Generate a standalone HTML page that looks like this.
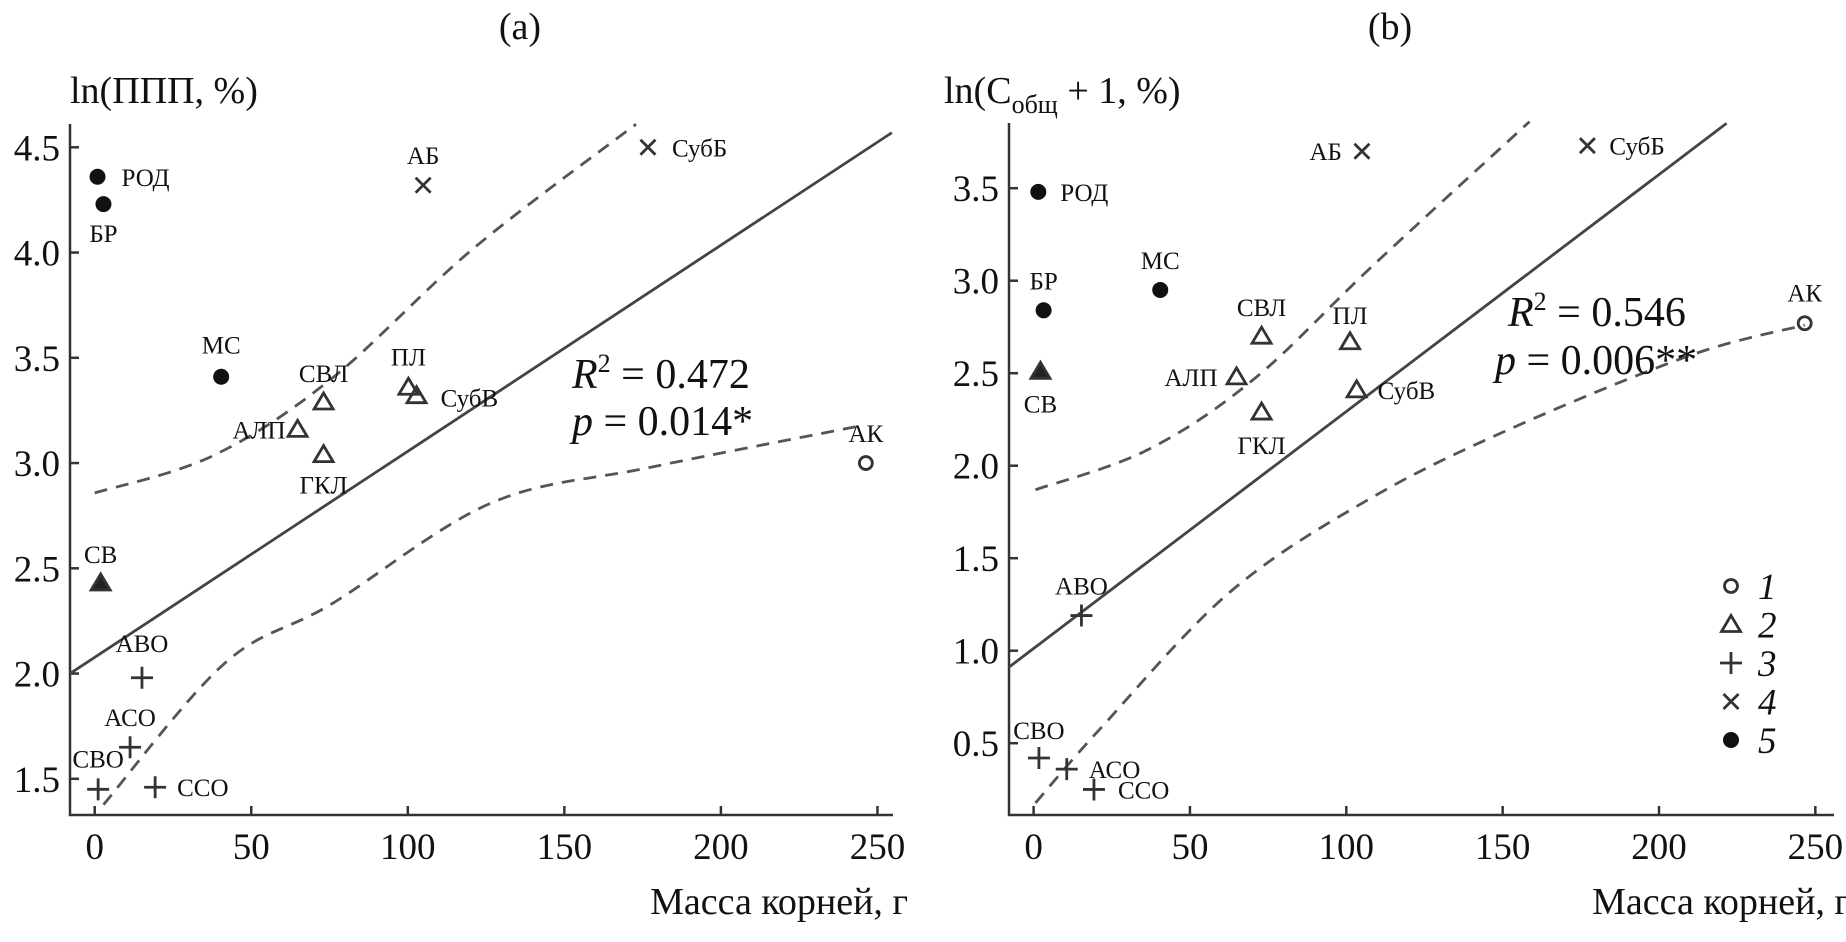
<!DOCTYPE html>
<html><head><meta charset="utf-8"><style>
html,body{margin:0;padding:0;background:#fff;}
svg{display:block;font-family:"Liberation Serif",serif;}
</style></head><body>
<svg id="chart" width="1846" height="942" viewBox="0 0 1846 942" xmlns="http://www.w3.org/2000/svg"></svg>
<script>
// ---------- Panel (a) data ----------
const aNames = ["РОД","БР","МС","СВЛ","АЛП","ГКЛ","ПЛ","СубВ","АБ","СубБ","АК","СВ","АВО","АСО","СВО","ССО"];
const aX = [0.9,2.8,40.4,73.1,64.8,73.1,100.2,102.8,104.9,176.7,246.3,1.9,15.1,11.3,1.1,19.3];
const aY = [4.36,4.23,3.41,3.29,3.16,3.04,3.36,3.32,4.32,4.50,3.00,2.43,1.98,1.65,1.45,1.46];
const aType = [5,5,5,2,2,2,2,2,4,4,1,6,3,3,3,3];
const aUpperX = [0,37.8,75.6,121,172.9];
const aUpperY = [2.858,3.035,3.40,4.02,4.61];
const aLowerX = [2.8,41.6,75.6,126.6,177.6,245.7];
const aLowerY = [1.377,2.05,2.33,2.81,2.98,3.18];
const aFit = [2.077,0.00979]; // intercept, slope
const aYTicks = [1.5,2.0,2.5,3.0,3.5,4.0,4.5];
// ---------- Panel (b) data ----------
const bNames = ["РОД","БР","СВ","МС","СВЛ","АЛП","ГКЛ","ПЛ","СубВ","АБ","СубБ","АК","АВО","СВО","АСО","ССО"];
const bX = [1.5,3.2,2.2,40.5,72.9,64.9,72.9,101.2,103.3,105,177.1,246.6,15.3,1.7,10.6,19.3];
const bY = [3.48,2.84,2.51,2.95,2.70,2.48,2.29,2.67,2.41,3.70,3.73,2.77,1.19,0.42,0.36,0.25];
const bType = [5,5,6,5,2,2,2,2,2,4,4,1,3,3,3,3];
const bUpperX = [0.6,36.5,70.6,108.4,158.6];
const bUpperY = [1.87,2.086,2.47,3.08,3.86];
const bLowerX = [0.6,21.4,63,108.4,153.9,210.6,246.6];
const bLowerY = [0.177,0.58,1.32,1.83,2.21,2.60,2.76];
const bFit = [1.012,0.01281];
const bYTicks = [0.5,1.0,1.5,2.0,2.5,3.0,3.5];
const xTicks = [0,50,100,150,200,250];
const legendLabels = ["1","2","3","4","5"];
const legendTypes = [1,2,3,4,5];

// layout (label offsets: dx, dy, anchor)
const aLab = [[24,9,"start"],[0,38,"middle"],[0,-23,"middle"],[0,-20,"middle"],[-12,9,"end"],[0,39,"middle"],[0,-22,"middle"],[24,11,"start"],[0,-21,"middle"],[24,9,"start"],[0,-21,"middle"],[0,-20,"middle"],[0,-26,"middle"],[0,-21,"middle"],[0,-22,"middle"],[22,9,"start"]];
const bLab = [[22,9,"start"],[0,-21,"middle"],[0,41,"middle"],[0,-21,"middle"],[0,-20,"middle"],[-19,9,"end"],[0,42,"middle"],[0,-18,"middle"],[21,9,"start"],[-20,9,"end"],[22,9,"start"],[0,-22,"middle"],[0,-21,"middle"],[0,-19,"middle"],[22,9,"start"],[24,9,"start"]];

const svg = document.getElementById('chart');
const NS = "http://www.w3.org/2000/svg";
const C = "#333";
function mk(tag, attrs, parent){
  const e = document.createElementNS(NS, tag);
  for (const k in attrs) e.setAttribute(k, attrs[k]);
  (parent||svg).appendChild(e);
  return e;
}
function txt(s, x, y, size, anchor, parent, style){
  const t = mk('text',{x:x,y:y,'font-size':size,'text-anchor':anchor||'start',fill:'#111'},parent);
  if(style) t.setAttribute('font-style',style);
  t.textContent = s;
  return t;
}
function marker(type, x, y, g){
  let e;
  if(type===1){ e = mk('circle',{cx:x,cy:y,r:6.5,fill:'none',stroke:C,'stroke-width':2.8},g); }
  else if(type===5){ e = mk('circle',{cx:x,cy:y,r:8,fill:'#111'},g); }
  else if(type===2||type===6){ e = mk('polygon',{points:`${x},${y-9} ${x-9.5},${y+7} ${x+9.5},${y+7}`,fill:type===6?'#222':'none',stroke:C,'stroke-width':2.8},g); }
  else if(type===3){ e = mk('path',{d:`M${x-11},${y}H${x+11}M${x},${y-11}V${y+11}`,stroke:C,'stroke-width':2.8,fill:'none'},g); }
  else { e = mk('path',{d:`M${x-7.5},${y-7.5}L${x+7.5},${y+7.5}M${x+7.5},${y-7.5}L${x-7.5},${y+7.5}`,stroke:C,'stroke-width':2.8,fill:'none'},g); }
  return e;
}
function smooth(px, py){
  let d = `M${px[0]},${py[0]}`;
  for(let i=0;i<px.length-1;i++){
    const p0=[px[Math.max(i-1,0)],py[Math.max(i-1,0)]], p1=[px[i],py[i]], p2=[px[i+1],py[i+1]], p3=[px[Math.min(i+2,px.length-1)],py[Math.min(i+2,px.length-1)]];
    const c1=[p1[0]+(p2[0]-p0[0])/6,p1[1]+(p2[1]-p0[1])/6], c2=[p2[0]-(p3[0]-p1[0])/6,p2[1]-(p3[1]-p1[1])/6];
    d+=` C${c1[0]},${c1[1]} ${c2[0]},${c2[1]} ${p2[0]},${p2[1]}`;
  }
  return d;
}
function panel(P){
  const g = mk('g',{});
  
  
  const sx = v => P.x0 + v*P.kx;
  const sy = v => P.yref - (v-P.vref)*P.ky;
  const ax = mk('path',{d:`M${P.axL},${P.top}V${P.bot}H${P.axR}`,stroke:C,'stroke-width':2.5,fill:'none'},g);
  
  
  xTicks.forEach(v=>{
    const X=sx(v);
    mk('line',{x1:X,y1:P.bot,x2:X,y2:P.bot-9,stroke:C,'stroke-width':2.5},g);
    const t=txt(String(v),X,P.bot+44,37,'middle',g);
    
    
  });
  P.yTicks.forEach(v=>{
    const Y=sy(v);
    mk('line',{x1:P.axL,y1:Y,x2:P.axL+9,y2:Y,stroke:C,'stroke-width':2.5},g);
    const t=txt(v.toFixed(1),P.axL-10,Y+13,37,'end',g);
    
    
  });
  const xl=(P.axL-P.x0)/P.kx, xr=P.fitEnd;
  const fl=mk('line',{x1:P.axL,y1:sy(P.fit[0]+P.fit[1]*xl),x2:sx(xr),y2:sy(P.fit[0]+P.fit[1]*xr),stroke:'#444','stroke-width':2.8},g);
  
  
  const u=mk('path',{d:smooth(P.ux.map(sx),P.uy.map(sy)),stroke:'#555','stroke-width':2.8,fill:'none','stroke-dasharray':'13,9'},g);
  
  
  const l=mk('path',{d:smooth(P.lx.map(sx),P.ly.map(sy)),stroke:'#555','stroke-width':2.8,fill:'none','stroke-dasharray':'13,9'},g);
  
  
  P.names.forEach((n,i)=>{
    const X=sx(P.px[i]), Y=sy(P.py[i]);
    const m=marker(P.types[i],X,Y,g);
    
    
    const o=P.lab[i];
    const t=txt(n,X+o[0],Y+o[1],25,o[2],g);
    
    
  });
}
panel({name:'panel-a',x0:94.7,kx:3.131,yref:147.3,vref:4.5,ky:210.5,axL:70,axR:893,top:124,bot:815,
  yTicks:aYTicks,fit:aFit,fitEnd:254.6,ux:aUpperX,uy:aUpperY,lx:aLowerX,ly:aLowerY,names:aNames,px:aX,py:aY,types:aType,lab:aLab});
panel({name:'panel-b',x0:1033.6,kx:3.127,yref:188.2,vref:3.5,ky:185,axL:1009,axR:1834,top:123,bot:815,
  yTicks:bYTicks,fit:bFit,fitEnd:221.6,ux:bUpperX,uy:bUpperY,lx:bLowerX,ly:bLowerY,names:bNames,px:bX,py:bY,types:bType,lab:bLab});

let t;
t=txt('(a)',520,39,38,'middle');  
t=txt('(b)',1390,39,38,'middle');  
t=txt('ln(ППП, %)',70,103,38,'start');  
t=mk('text',{x:944,y:103,'font-size':38,fill:'#111'});
t.innerHTML='ln(C<tspan font-size="26" dy="10">общ</tspan><tspan dy="-10"> + 1, %)</tspan>';
 
t=txt('Масса корней, г',908,914,38,'end');  
t=txt('Масса корней, г',1850,914,38,'end');  
t=mk('text',{x:572,y:388,'font-size':42,fill:'#111'});
t.innerHTML='<tspan font-style="italic">R</tspan><tspan font-size="26" dy="-16">2</tspan><tspan dy="16"> = 0.472</tspan>';
 
t=mk('text',{x:572,y:435,'font-size':42,fill:'#111'});
t.innerHTML='<tspan font-style="italic">p</tspan> = 0.014*';
 
t=mk('text',{x:1508,y:326,'font-size':42,fill:'#111'});
t.innerHTML='<tspan font-style="italic">R</tspan><tspan font-size="26" dy="-16">2</tspan><tspan dy="16"> = 0.546</tspan>';
 
t=mk('text',{x:1495,y:374,'font-size':42,fill:'#111'});
t.innerHTML='<tspan font-style="italic">p</tspan> = 0.006**';
 
const lg=mk('g',{});


legendLabels.forEach((s,i)=>{
  const Y=586+i*38.5;
  const m=marker(legendTypes[i],1731,Y,lg);
  
  
  const tt=txt(s,1758,Y+13,37,'start',lg,'italic');
  
  
});
</script>
</body></html>
